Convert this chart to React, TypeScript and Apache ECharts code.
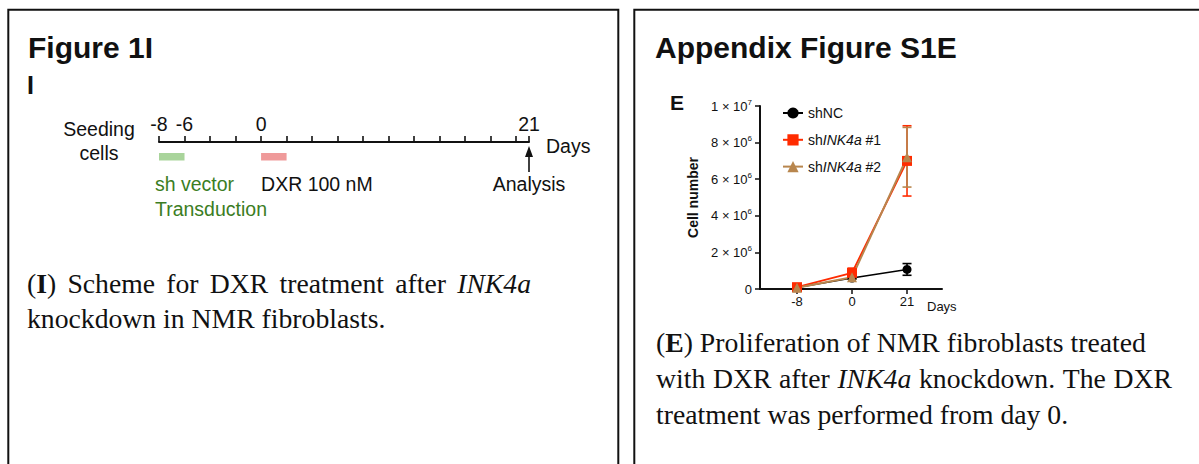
import React, { useEffect, useRef } from 'react';
import * as echarts from 'echarts';

// ---- Data: Appendix Figure S1E ----
const dayLabels = ['-8', '0', '21'];
const seriesNames = ['shNC', 'shINK4a #1', 'shINK4a #2'];
const shNC = [0.08e6, 0.6e6, 1.07e6];
const shNCErr = [0.03e6, 0.05e6, 0.32e6];
const shINK1 = [0.1e6, 0.88e6, 7.0e6];
const shINK1Err = [0.05e6, 0.26e6, 1.92e6];
const shINK2 = [0.07e6, 0.64e6, 7.2e6];
const shINK2Err = [0.02e6, 0.06e6, 1.63e6];
const yMax = 1e7;
const yStep = 2e6;

// ---- Data: Figure 1I timeline ----
const timelineTicks = [-8, -6, -4, -2, 0, 2, 4, 6, 8, 10, 12, 14, 16, 18, 20, 21];
const timelineLabels = [-8, -6, 0, 21];
const treatmentStart = [-8, 0];
const treatmentEnd = [-6, 2];
const treatmentText = [['sh vector', 'Transduction'], ['DXR 100 nM']];
const analysisDay = [21];

// ---- Styles ----
const SANS = '"Liberation Sans", Arial, sans-serif';
const SERIF = '"Liberation Serif", "Times New Roman", serif';
const CAP_SIZE = 27.7;
const seriesColors = ['#000000', '#ff2b00', '#b8864e'];
const seriesSymbols = ['circle', 'rect', 'triangle'];
const seriesSymbolSizes = [9, 10, 10];
const treatmentColors = ['#a9d49b', '#ef9a9a'];
const treatmentTextColors = ['#3b7d23', '#111111'];

function yLabel(v: number): string {
  if (v === 0) return '0';
  const e = Math.floor(Math.log10(v) + 1e-9);
  const m = Math.round(v / Math.pow(10, e));
  return `{n|${m} × 10}{s|${e}}`;
}

function legendName(name: string): string {
  if (name.startsWith('shINK4a')) return 'sh{i|INK4a}' + name.slice(7);
  return name;
}

let measureCtx: CanvasRenderingContext2D | null = null;
function fontFor(tag: string) {
  const w = tag === 'b' ? 'bold ' : '';
  const s = tag === 'i' ? 'italic ' : '';
  return `${s}${w}${CAP_SIZE}px "Liberation Serif"`;
}
function measureWord(word: string): number {
  if (!measureCtx) measureCtx = document.createElement('canvas').getContext('2d');
  const ctx = measureCtx!;
  let total = 0;
  const re = /\{(\w)\|([^}]*)\}/g;
  let last = 0;
  let m: RegExpExecArray | null;
  while ((m = re.exec(word))) {
    if (m.index > last) {
      ctx.font = fontFor('n');
      total += ctx.measureText(word.slice(last, m.index)).width;
    }
    ctx.font = fontFor(m[1]);
    total += ctx.measureText(m[2]).width;
    last = m.index + m[0].length;
  }
  if (last < word.length) {
    ctx.font = fontFor('n');
    total += ctx.measureText(word.slice(last)).width;
  }
  return total;
}

const serifRich = {
  b: { fontFamily: SERIF, fontSize: CAP_SIZE, fontWeight: 'bold', fill: '#111' },
  i: { fontFamily: SERIF, fontSize: CAP_SIZE, fontStyle: 'italic', fill: '#111' },
};
const serifText = (x: number, y: number, text: string) => ({
  type: 'text',
  x,
  y,
  style: {
    text,
    fontFamily: SERIF,
    fontSize: CAP_SIZE,
    fill: '#111',
    align: 'left',
    verticalAlign: 'middle',
    rich: serifRich,
  },
});
function justifiedLine(x: number, y: number, text: string, width: number): any[] {
  const words = text.split(' ');
  const widths = words.map(measureWord);
  const sum = widths.reduce((a, b) => a + b, 0);
  const gap = (width - sum) / (words.length - 1);
  const out: any[] = [];
  let cx = x;
  words.forEach((w, i) => {
    out.push(serifText(cx, y, w));
    cx += widths[i] + gap;
  });
  return out;
}

export default function App() {
  const ref = useRef<HTMLDivElement>(null);

  useEffect(() => {
    if (!ref.current) return;
    const chart = echarts.init(ref.current, undefined, { renderer: 'svg' });

    const values = [shNC, shINK1, shINK2];
    const errs = [shNCErr, shINK1Err, shINK2Err];

    const series: any[] = [];
    values.forEach((vals, si) => {
      series.push({
        type: 'custom',
        name: seriesNames[si] + ' error',
        xAxisIndex: 0,
        yAxisIndex: 0,
        data: vals.map((v, i) => [i, v - errs[si][i], v + errs[si][i]]),
        renderItem: (params: any, api: any) => {
          const x = api.value(0);
          const lo = api.coord([x, api.value(1)]);
          const hi = api.coord([x, api.value(2)]);
          const hw = 4.5;
          const st = { stroke: seriesColors[si], lineWidth: 1.6 };
          return {
            type: 'group',
            children: [
              { type: 'line', shape: { x1: lo[0], y1: lo[1], x2: hi[0], y2: hi[1] }, style: st },
              { type: 'line', shape: { x1: lo[0] - hw, y1: lo[1], x2: lo[0] + hw, y2: lo[1] }, style: st },
              { type: 'line', shape: { x1: hi[0] - hw, y1: hi[1], x2: hi[0] + hw, y2: hi[1] }, style: st },
            ],
          };
        },
        silent: true,
      });
      series.push({
        type: 'line',
        name: seriesNames[si],
        xAxisIndex: 0,
        yAxisIndex: 0,
        data: vals.map((v, i) => [i, v]),
        symbol: seriesSymbols[si],
        symbolSize: seriesSymbolSizes[si],
        showAllSymbol: true,
        lineStyle: { color: seriesColors[si], width: si === 0 ? 1.5 : 1.9 },
        itemStyle: { color: seriesColors[si] },
      });
    });

    // timeline treatment bars and labels
    series.push({
      type: 'custom',
      name: 'treatments',
      xAxisIndex: 1,
      yAxisIndex: 1,
      data: treatmentStart.map((s, i) => [s, treatmentEnd[i], i]),
      renderItem: (params: any, api: any) => {
        const i = api.value(2);
        const x0 = api.coord([api.value(0), 0])[0];
        const x1 = api.coord([api.value(1), 0])[0];
        const top = params.coordSys.y;
        const children: any[] = [
          {
            type: 'rect',
            shape: { x: x0, y: top + 11, width: x1 - x0, height: 7.5 },
            style: { fill: treatmentColors[i] },
          },
        ];
        treatmentText[i].forEach((t: string, k: number) => {
          children.push({
            type: 'text',
            style: {
              text: t,
              x: x0 - (i === 0 ? 4 : 0),
              y: top + 42 + k * 25,
              fill: treatmentTextColors[i],
              font: `19.5px ${SANS}`,
              align: 'left',
              verticalAlign: 'middle',
            },
          });
        });
        return { type: 'group', children };
      },
      silent: true,
    });

    // analysis arrow
    series.push({
      type: 'custom',
      name: 'analysis',
      xAxisIndex: 1,
      yAxisIndex: 1,
      data: analysisDay.map((d) => [d]),
      renderItem: (params: any, api: any) => {
        const x = api.coord([api.value(0), 0])[0];
        const top = params.coordSys.y;
        return {
          type: 'group',
          children: [
            { type: 'line', shape: { x1: x, y1: top + 12, x2: x, y2: top + 30 }, style: { stroke: '#111', lineWidth: 1.6 } },
            {
              type: 'polygon',
              shape: { points: [[x, top + 4], [x - 4, top + 15], [x + 4, top + 15]] },
              style: { fill: '#111' },
            },
            {
              type: 'text',
              style: {
                text: 'Analysis',
                x: x,
                y: top + 42,
                fill: '#111',
                font: `19.5px ${SANS}`,
                align: 'center',
                verticalAlign: 'middle',
              },
            },
          ],
        };
      },
      silent: true,
    });

    const sansText = (x: number, y: number, text: string, size: number, bold: boolean, align = 'left') => ({
      type: 'text',
      x,
      y,
      style: {
        text,
        fontFamily: SANS,
        fontSize: size,
        fontWeight: bold ? 'bold' : 'normal',
        fill: '#111',
        align,
        verticalAlign: 'middle',
      },
    });

    const option: any = {
      animation: false,
      backgroundColor: '#ffffff',
      grid: [
        { left: 760, top: 106, width: 182, height: 183, containLabel: false },
        { left: 159, top: 142, width: 370, height: 40, containLabel: false },
      ],
      xAxis: [
        {
          type: 'value',
          gridIndex: 0,
          min: -0.673,
          max: 2.636,
          axisLine: { onZero: false, lineStyle: { color: '#111', width: 2 } },
          axisTick: { customValues: [0, 1, 2], length: 5, lineStyle: { color: '#111', width: 1.5 } },
          axisLabel: {
            customValues: [0, 1, 2],
            formatter: (v: number) => dayLabels[Math.round(v)] ?? '',
            fontFamily: SANS,
            fontSize: 13,
            color: '#111',
            margin: 6,
          },
          splitLine: { show: false },
        },
        {
          type: 'value',
          gridIndex: 1,
          min: -8,
          max: 21,
          position: 'top',
          axisLine: { onZero: false, lineStyle: { color: '#111', width: 2 } },
          axisTick: { customValues: timelineTicks, length: 6, lineStyle: { color: '#111', width: 1.6 } },
          axisLabel: {
            customValues: timelineLabels,
            fontFamily: SANS,
            fontSize: 19.5,
            color: '#111',
            margin: 8,
          },
          splitLine: { show: false },
        },
      ],
      yAxis: [
        {
          type: 'value',
          gridIndex: 0,
          min: 0,
          max: yMax,
          interval: yStep,
          name: 'Cell number',
          nameLocation: 'middle',
          nameGap: 60,
          nameTextStyle: { fontFamily: SANS, fontSize: 14, fontWeight: 'bold', color: '#111' },
          axisLine: { show: true, onZero: false, lineStyle: { color: '#111', width: 2 } },
          axisTick: { show: true, length: 5, lineStyle: { color: '#111', width: 1.5 } },
          axisLabel: {
            formatter: yLabel,
            fontFamily: SANS,
            fontSize: 13,
            color: '#111',
            margin: 8,
            rich: {
              n: { fontFamily: SANS, fontSize: 13, color: '#111', lineHeight: 16 },
              s: { fontFamily: SANS, fontSize: 8, color: '#111', lineHeight: 9, verticalAlign: 'top' },
            },
          },
          splitLine: { show: false },
        },
        { type: 'value', gridIndex: 1, min: 0, max: 1, show: false },
      ],
      legend: {
        data: seriesNames,
        orient: 'vertical',
        left: 777,
        top: 101,
        itemWidth: 20,
        itemHeight: 14,
        itemGap: 12.8,
        formatter: legendName,
        textStyle: {
          fontFamily: SANS,
          fontSize: 14,
          color: '#111',
          rich: { i: { fontFamily: SANS, fontSize: 14, fontStyle: 'italic', color: '#111' } },
        },
        selectedMode: false,
      },
      series,
      graphic: [
        { type: 'rect', shape: { x: 8.3, y: 9.8, width: 610, height: 520 }, style: { fill: 'none', stroke: '#111', lineWidth: 2 } },
        { type: 'rect', shape: { x: 634.3, y: 9.8, width: 620, height: 520 }, style: { fill: 'none', stroke: '#111', lineWidth: 2 } },
        sansText(28, 47, 'Figure 1I', 30, true),
        sansText(27, 85, 'I', 25, true),
        sansText(655, 47, 'Appendix Figure S1E', 30, true),
        sansText(670, 102, 'E', 21, true),
        sansText(99, 129, 'Seeding', 19.5, false, 'center'),
        sansText(99, 153, 'cells', 19.5, false, 'center'),
        sansText(546, 146, 'Days', 19.5, false),
        sansText(927, 306, 'Days', 13, false),
        ...justifiedLine(27, 283, '({b|I}) Scheme for DXR treatment after {i|INK4a}', 504),
        serifText(27, 318, 'knockdown in NMR fibroblasts.'),
        serifText(656, 342, '({b|E}) Proliferation of NMR fibroblasts treated'),
        ...justifiedLine(656, 378, 'with DXR after {i|INK4a} knockdown. The DXR', 516),
        serifText(656, 414, 'treatment was performed from day 0.'),
      ],
    };

    chart.setOption(option);
    return () => chart.dispose();
  }, []);

  return (
    <div
      ref={ref}
      style={{ position: 'absolute', left: 0, top: 0, width: 1199, height: 464, background: '#fff' }}
    />
  );
}
